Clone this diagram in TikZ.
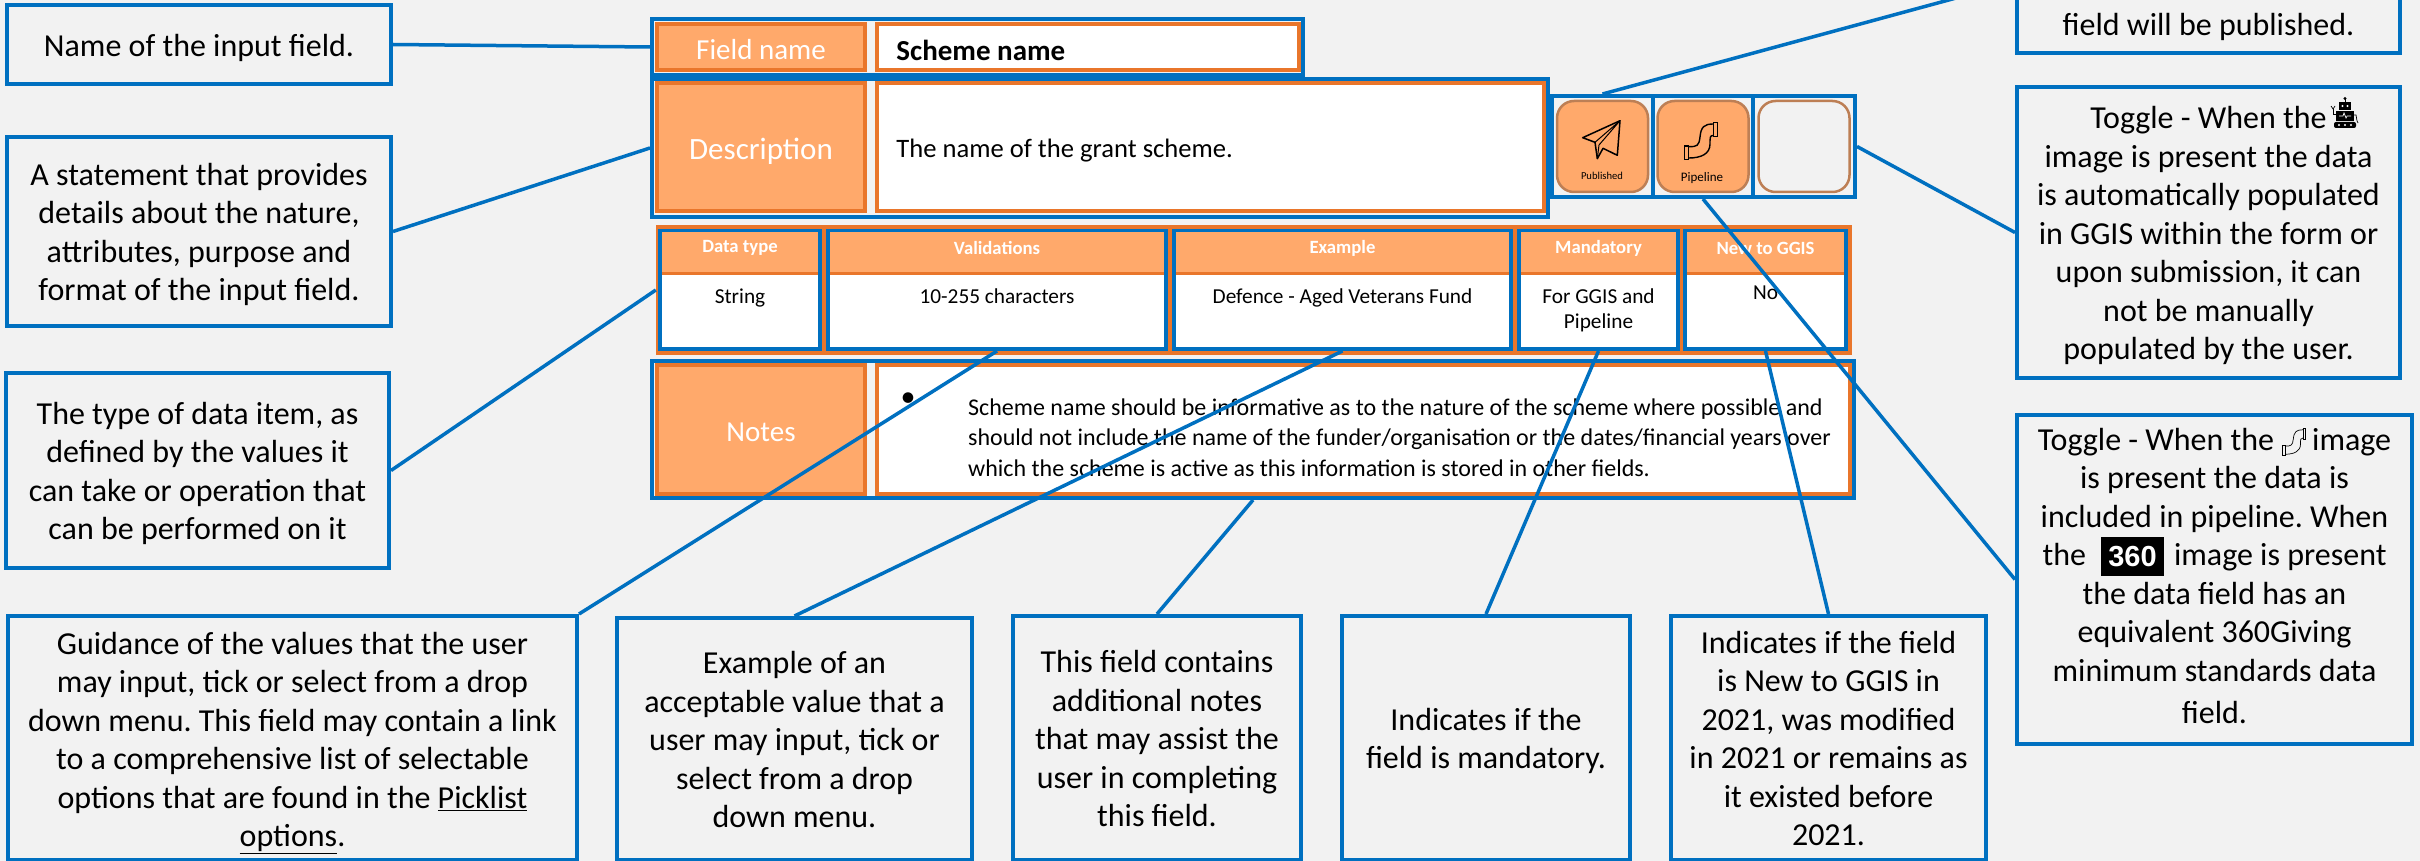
\documentclass[tikz,border=0pt]{standalone}
\usepackage{fontspec}
\setmainfont{Carlito}
\newfontfamily\badgefont{Liberation Sans}
\usetikzlibrary{positioning}
\AtBeginDocument{\frenchspacing}
\definecolor{pagegrey}{HTML}{F2F2F2}
\definecolor{calloutblue}{HTML}{0070C0}
\definecolor{darkorange}{HTML}{E9762B}
\definecolor{lightorange}{HTML}{FFA96B}
\definecolor{iconbrown}{HTML}{BD7F55}
\newcommand{\lowered}[2]{\raisebox{-#1}[\height][\depth]{#2}}
\newcommand{\notelines}[2][4pt]{\lowered{#1}{\begin{tabular}{@{}c@{}}#2\end{tabular}}}

\tikzset{
  pics/pipeicon/.style={code={
    \draw (-16.3,5) rectangle (-12.3,18.3) ;
    \draw (12.3,-18.3) rectangle (16.3,-4.3) ;
    \draw (-12.3,5.7) .. controls (-4,5.7) and (-2,5) .. (-1,-4) .. controls (0,-14) and (3,-17) .. (12.3,-17) ;
    \draw (-12.3,17) .. controls (0,17) and (9,13) .. (9,3) .. controls (9,-4) and (9,-5.5) .. (12.3,-5.5) ;
  }},
  pics/roboticon/.style={code={
    \fill (0,-14.5) circle (1.6) ;
    \draw (0,-14) -- (0,-10) ;
    \fill (-6,-11) rectangle (6,-3) ;
    \fill[white] (-2.5,-7) circle (1.2) (2.5,-7) circle (1.2) ;
    \fill (-9,-2) rectangle (9,8) ;
    \draw[white] (-6,3) -- (-2,3) -- (-1,0) -- (1,5) -- (2,3) -- (6,3) ;
    \fill[rounded corners=2] (-11,9) rectangle (11,15) ;
    \fill[white] (-6,12) circle (1.2) (0,12) circle (1.2) (6,12) circle (1.2) ;
    \draw (-9,1) -- (-12,1) -- (-12,-4) ;
    \draw (-14,-7) -- (-12,-4) -- (-10,-7) ;
    \draw (9,2) -- (11,2) -- (12,8) (12,8) -- (13,10) ;
  }},
}

\begin{document}
\begin{tikzpicture}[x=1pt,y=-1pt,
  outerbox/.style={draw=calloutblue,line width=4pt,inner sep=0pt},
  callout/.style={outerbox,text=black,font=\fontsize{32}{38.5}\selectfont},
  notetext/.style={inner sep=0pt,font=\fontsize{32}{38.5}\selectfont},
  labelbox/.style={draw=darkorange,line width=3.5pt,fill=lightorange,inner sep=0pt,text=white,font=\fontsize{29}{32}\selectfont},
  fieldbox/.style={draw=darkorange,line width=3.5pt,fill=white,inner sep=0pt},
  bodytext/.style={inner sep=0pt,anchor=west,font=\fontsize{26.6}{32}\selectfont},
  colbox/.style={outerbox,fill=white},
  headcell/.style={fill=lightorange,inner sep=0pt,text=white,font=\bfseries\fontsize{18.7}{24}\selectfont},
  headrule/.style={draw=darkorange,line width=3pt},
  valuetext/.style={inner sep=0pt,align=center,font=\fontsize{21.3}{25.7}\selectfont},
  iconcell/.style={draw=iconbrown,line width=2.5pt,rounded corners=17pt,inner sep=0pt,minimum width=91,minimum height=91},
  iconline/.style={line width=1.5pt,line join=round},
  wire/.style={draw=calloutblue,line width=3.5pt},
  ]
	\fill[pagegrey] (0,0) rectangle (2420,861) ;
	\useasboundingbox (0,0) rectangle (2420,861) ;

	\node [callout,minimum width=384,minimum height=79] (namenote) at (199,44.5) {\notelines{Name of the input field.}} ;
	\node [callout,minimum width=384,minimum height=189] (descnote) at (199,231.5) {\notelines{A statement that provides\\details about the nature,\\attributes, purpose and\\format of the input field.}} ;
	\node [callout,minimum width=383,minimum height=195] (typenote) at (197.5,470.5) {\notelines{The type of data item, as\\defined by the values it\\can take or operation that\\can be performed on it}} ;
	\node [callout,minimum width=569,minimum height=244] (guidenote) at (292.5,738) {\notelines[5pt]{Guidance of the values that the user\\may input, tick or select from a drop\\down menu. This field may contain a link\\to a comprehensive list of selectable\\options that are found in the \underline{Picklist}\\\underline{options}.}} ;
	\node [callout,minimum width=355,minimum height=242] (examplenote) at (794.5,739) {\notelines{Example of an\\acceptable value that a\\user may input, tick or\\select from a drop\\down menu.}} ;
	\node [callout,minimum width=288,minimum height=244] (notesnote) at (1157,738) {\notelines{This field contains\\additional notes\\that may assist the\\user in completing\\this field.}} ;
	\node [callout,minimum width=288,minimum height=244] (mandnote) at (1486,738) {\notelines{Indicates if the\\field is mandatory.}} ;
	\node [callout,minimum width=315,minimum height=244] (newnote) at (1828.5,738) {\notelines{Indicates if the field\\is New to GGIS in\\2021, was modified\\in 2021 or remains as\\it existed before\\2021.}} ;
	\node [outerbox,minimum width=383,minimum height=142] (pubnote) at (2208.5,-18) {} ;
	\node [notetext] (pubtext) at (2208.5,27) {field will be published.} ;
	\node [callout,minimum width=383,minimum height=291] (robotnote) at (2208.5,232.5) {\notelines{Toggle - When the\\image is present the data\\is automatically populated\\in GGIS within the form or\\upon submission, it can\\not be manually\\populated by the user.}} ;
	\node [callout,minimum width=395,minimum height=329] (pipenote) at (2214.5,579.5) {\notelines[0pt]{Toggle - When the\hspace*{38pt}image\\is present the data is\\included in pipeline. When\\the\hspace*{88pt}image is present\\the data field has an\\equivalent 360Giving\\minimum standards data\\[4pt]field.}} ;
	\node [fill=black,text=white,inner sep=0pt,minimum width=63,minimum height=39,font=\badgefont\bfseries\fontsize{29}{29}\selectfont] (badge) at (2132.5,556.5) {360} ;
	\pic [line width=.7pt,scale=.72] (inlinepipe) at (2294,442) {pipeicon} ;
	\pic [line width=.7pt] (inlinerobot) at (2345,113) {roboticon} ;

	\node [outerbox,minimum width=651,minimum height=56] (namerow) at (977.5,47) {} ;
	\node [labelbox,minimum width=208,minimum height=46] (namelabel) at (761,47) {\lowered{3pt}{Field name}} ;
	\node [fieldbox,minimum width=422,minimum height=46] (namefield) at (1088,47) {} ;
	\node [bodytext,font=\bfseries\fontsize{29}{32}\selectfont,right=21pt of namefield.west] (nametext) {\lowered{3pt}{Scheme name}} ;

	\node [outerbox,minimum width=896,minimum height=138] (descrow) at (1100,148) {} ;
	\node [labelbox,font=\fontsize{31}{34}\selectfont,minimum width=208,minimum height=128] (desclabel) at (761,147) {\lowered{4pt}{Description}} ;
	\node [fieldbox,minimum width=667,minimum height=128] (descfield) at (1210.5,147) {} ;
	\node [bodytext,right=21pt of descfield.west] (desctext) {\lowered{4pt}{The name of the grant scheme.}} ;

	\node [outerbox,minimum width=101,minimum height=101] (pubcell) at (1602.5,146.5) {} ;
	\node [outerbox,minimum width=100,minimum height=101] (pipecell) at (1703,146.5) {} ;
	\node [outerbox,minimum width=102,minimum height=101] (emptycell) at (1804,146.5) {} ;
	\node [iconcell,fill=lightorange] (pubicon) at (pubcell.center) {} ;
	\node [iconcell,fill=lightorange] (pipeicon) at (pipecell.center) {} ;
	\node [iconcell,fill=pagegrey] (emptyicon) at (emptycell.center) {} ;
	\draw [iconline] (1620,120.7) -- (1582.7,137.7) -- (1595,142.3) -- (1597.3,158.7) -- (1603,148.3) -- (1617.3,155.3) -- cycle ;
	\draw [line width=1pt] (1595,142.3) -- (1620,120.7) -- (1599,145) -- (1597.3,158.7) ;
	\pic [line width=1.4pt] (bigpipe) at (1701,141) {pipeicon} ;
	\node [inner sep=0pt,font=\fontsize{10.6}{12}\selectfont] (publabel) at (1602,176) {Published} ;
	\node [inner sep=0pt,font=\fontsize{13}{14}\selectfont] (pipelabel) at (1702,178) {Pipeline} ;

	\node [fill=darkorange,inner sep=0pt,minimum width=1196,minimum height=130] (typetable) at (1254,290) {} ;
	\node [colbox,minimum width=160,minimum height=118] (databox) at (740,290) {} ;
	\node [colbox,minimum width=338,minimum height=118] (validbox) at (997,290) {} ;
	\node [colbox,minimum width=337,minimum height=118] (examplebox) at (1342.5,290) {} ;
	\node [colbox,minimum width=159,minimum height=118] (mandbox) at (1598.5,290) {} ;
	\node [colbox,minimum width=161,minimum height=118] (newbox) at (1765.5,290) {} ;
	\node [headcell,minimum width=156,minimum height=41] (datahead) at (740,253) {\lowered{-5pt}{Data type}} ;
	\node [headcell,minimum width=334,minimum height=41] (validhead) at (997,253) {\lowered{-5pt}{Validations}} ;
	\node [headcell,minimum width=333,minimum height=41] (examplehead) at (1342.5,253) {\lowered{-5pt}{Example}} ;
	\node [headcell,minimum width=155,minimum height=41] (mandhead) at (1598.5,253) {\lowered{-5pt}{Mandatory}} ;
	\node [headcell,minimum width=157,minimum height=41] (newhead) at (1765.5,253) {\lowered{-5pt}{New to GGIS}} ;
	\foreach \cell in {datahead,validhead,examplehead,mandhead,newhead}
		\draw [headrule] (\cell.south west) -- (\cell.south east) ;
	\node [valuetext,below=14.5pt of datahead] (datavalue) {String} ;
	\node [valuetext,below=14.5pt of validhead] (validvalue) {10-255 characters} ;
	\node [valuetext,below=14.5pt of examplehead] (examplevalue) {Defence - Aged Veterans Fund} ;
	\node [valuetext,below=14.5pt of mandhead] (mandvalue) {For GGIS and\\Pipeline} ;
	\node [valuetext,below=11.5pt of newhead] (newvalue) {No} ;

	\node [outerbox,minimum width=1202,minimum height=137] (notesrow) at (1253,429.5) {} ;
	\node [labelbox,minimum width=208,minimum height=129] (noteslabel) at (761,429.5) {\lowered{3pt}{Notes}} ;
	\node [fieldbox,minimum width=973,minimum height=129] (notesfield) at (1363.5,429.5) {} ;
	\node [inner sep=0pt,font=\fontsize{30}{30}\selectfont] (notesbullet) at (908,400) {•} ;
	\node [bodytext,align=left,font=\fontsize{24}{30.5}\selectfont] (notestext) at (968,437.5) {Scheme name should be informative as to the nature of the scheme where possible and\\should not include the name of the funder/organisation or the dates/financial years over\\which the scheme is active as this information is stored in other fields.} ;

	\draw [wire] (namenote.east) -- (namerow.west) ;
	\draw [wire] (descnote.east) -- (descrow.west) ;
	\draw [wire] (typenote.east) -- (typetable.west) ;
	\draw [wire] (guidenote.north east) -- (validbox.south) ;
	\draw [wire] (examplenote.north) -- (examplebox.south) ;
	\draw [wire] (notesnote.north) -- (notesrow.south) ;
	\draw [wire] (mandnote.north) -- (mandbox.south) ;
	\draw [wire] (newnote.north) -- (newbox.south) ;
	\draw [wire] (pubcell.north) -- (pubnote.west) ;
	\draw [wire] (emptycell.east) -- (robotnote.west) ;
	\draw [wire] (pipecell.south) -- (pipenote.west) ;
\end{tikzpicture}
\end{document}
